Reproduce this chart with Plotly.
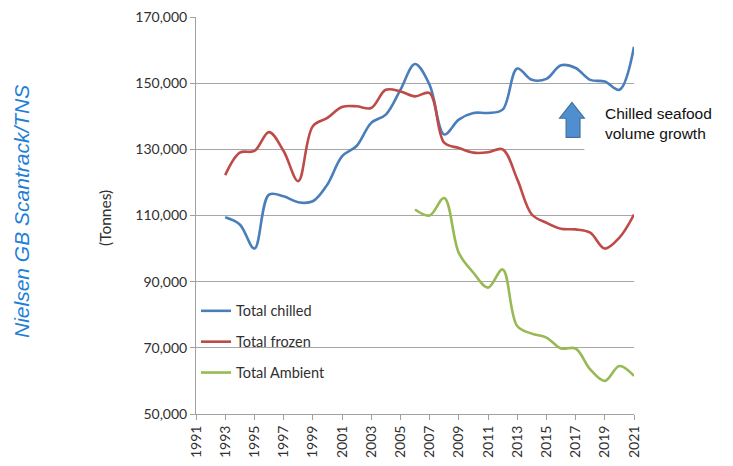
import plotly.graph_objects as go

years = list(range(1993, 2022))
chilled = [109500, 107300, 100000, 116300, 115800, 114000, 114300, 119400, 127900, 131000,
           138000, 140500, 148000, 155800, 149500, 134500, 139000, 141000, 141000, 142000,
           154400, 151000, 151300, 155400, 154600, 151000, 150500, 148000, 161000]
frozen = [122200, 129000, 129500, 135200, 129500, 120400, 137000, 139500, 142800, 143000,
          142500, 148000, 147500, 146000, 147000, 132000, 130400, 129000, 129100, 130000,
          121000, 110300, 107800, 106000, 105800, 104800, 100000, 103300, 110300]
ambient_years = list(range(2006, 2022))
ambient = [111800, 110000, 115300, 98700, 92700, 88200, 93700, 76600, 74300, 73100,
           69800, 69800, 63500, 60000, 64500, 61500]

series_names = ["Total chilled", "Total frozen", "Total Ambient"]
colors = ["#4A7EBB", "#BE4B48", "#98B954"]
x_ticks = list(range(1991, 2022, 2))
y_ticks = list(range(50000, 170001, 20000))

fig = go.Figure()
for i, (xs, ys) in enumerate([(years, chilled), (years, frozen), (ambient_years, ambient)]):
    fig.add_trace(go.Scatter(
        x=xs, y=ys, mode="lines", name=series_names[i], legendgroup=series_names[i],
        line=dict(color=colors[i], width=2.6, shape="spline", smoothing=1.0),
    ))

FONT = "Lato"
fig.update_layout(
    width=733, height=466,
    margin=dict(l=196, r=99, t=17, b=52),
    paper_bgcolor="white", plot_bgcolor="white",
    font=dict(family=FONT, size=14, color="#404040"),
    showlegend=True,
    legend=dict(x=0.0, y=0.30, xanchor="left", yanchor="top",
                bgcolor="rgba(0,0,0,0)", tracegroupgap=9,
                font=dict(family=FONT, size=14.5, color="#303030"), itemwidth=30),
    xaxis=dict(range=[1991, 2021], tickvals=x_ticks, ticktext=[str(v) for v in x_ticks],
               tickangle=-90, showgrid=False, showline=True, linecolor="#A0A0A0",
               ticks="outside", ticklen=5, tickcolor="#A0A0A0", zeroline=False,
               automargin=False,
               tickfont=dict(family=FONT, size=14, color="#303030")),
    yaxis=dict(range=[50000, 170000], tickvals=y_ticks,
               ticktext=[f"{v:,}" for v in y_ticks],
               showgrid=True, gridcolor="#A6A6A6", gridwidth=1,
               showline=True, linecolor="#A0A0A0", automargin=False,
               ticks="outside", ticklen=5, tickcolor="#A0A0A0", zeroline=False,
               tickfont=dict(family=FONT, size=14, color="#303030")),
)

# white box behind annotation text (covers part of gridline)
fig.add_shape(type="rect", xref="x", yref="y", x0=2017.6, x1=2021.2, y0=128000, y1=146500,
              fillcolor="white", line=dict(width=0), layer="between")

# block up arrow
ax0, ax1 = 2015.9, 2017.6
sx0, sx1 = 2016.35, 2017.3
ytip, ybase, ybot = 144200, 139400, 133600
path = (f"M {sx0},{ybot} L {sx0},{ybase} L {ax0},{ybase} L {(ax0+ax1)/2},{ytip} "
        f"L {ax1},{ybase} L {sx1},{ybase} L {sx1},{ybot} Z")
fig.add_shape(type="path", xref="x", yref="y", path=path,
              fillcolor="#4F8FD0", line=dict(color="#41719C", width=1.2), layer="above")

fig.add_annotation(xref="paper", yref="paper", x=(603-196)/438, y=(414-103)/397,
                   xanchor="left", yanchor="top", align="left", showarrow=False,
                   text="Chilled seafood<br>volume growth",
                   font=dict(family="Liberation Sans, Arial", size=15.5, color="#111111"))

fig.add_annotation(xref="paper", yref="paper", x=(22-196)/438, y=(414-212)/397,
                   xanchor="center", yanchor="middle", showarrow=False, textangle=-90,
                   text="<i>Nielsen GB Scantrack/TNS</i>",
                   font=dict(family="Liberation Sans, Arial", size=21, color="#1F7FD6"))

fig.add_annotation(xref="paper", yref="paper", x=(105-196)/438, y=(414-218)/397,
                   xanchor="center", yanchor="middle", showarrow=False, textangle=-90,
                   text="(Tonnes)",
                   font=dict(family=FONT, size=15.5, color="#303030"))

fig.write_html("out.html", config={"displayModeBar": False},
               post_script="document.body.style.margin='0';document.body.style.padding='0';")
